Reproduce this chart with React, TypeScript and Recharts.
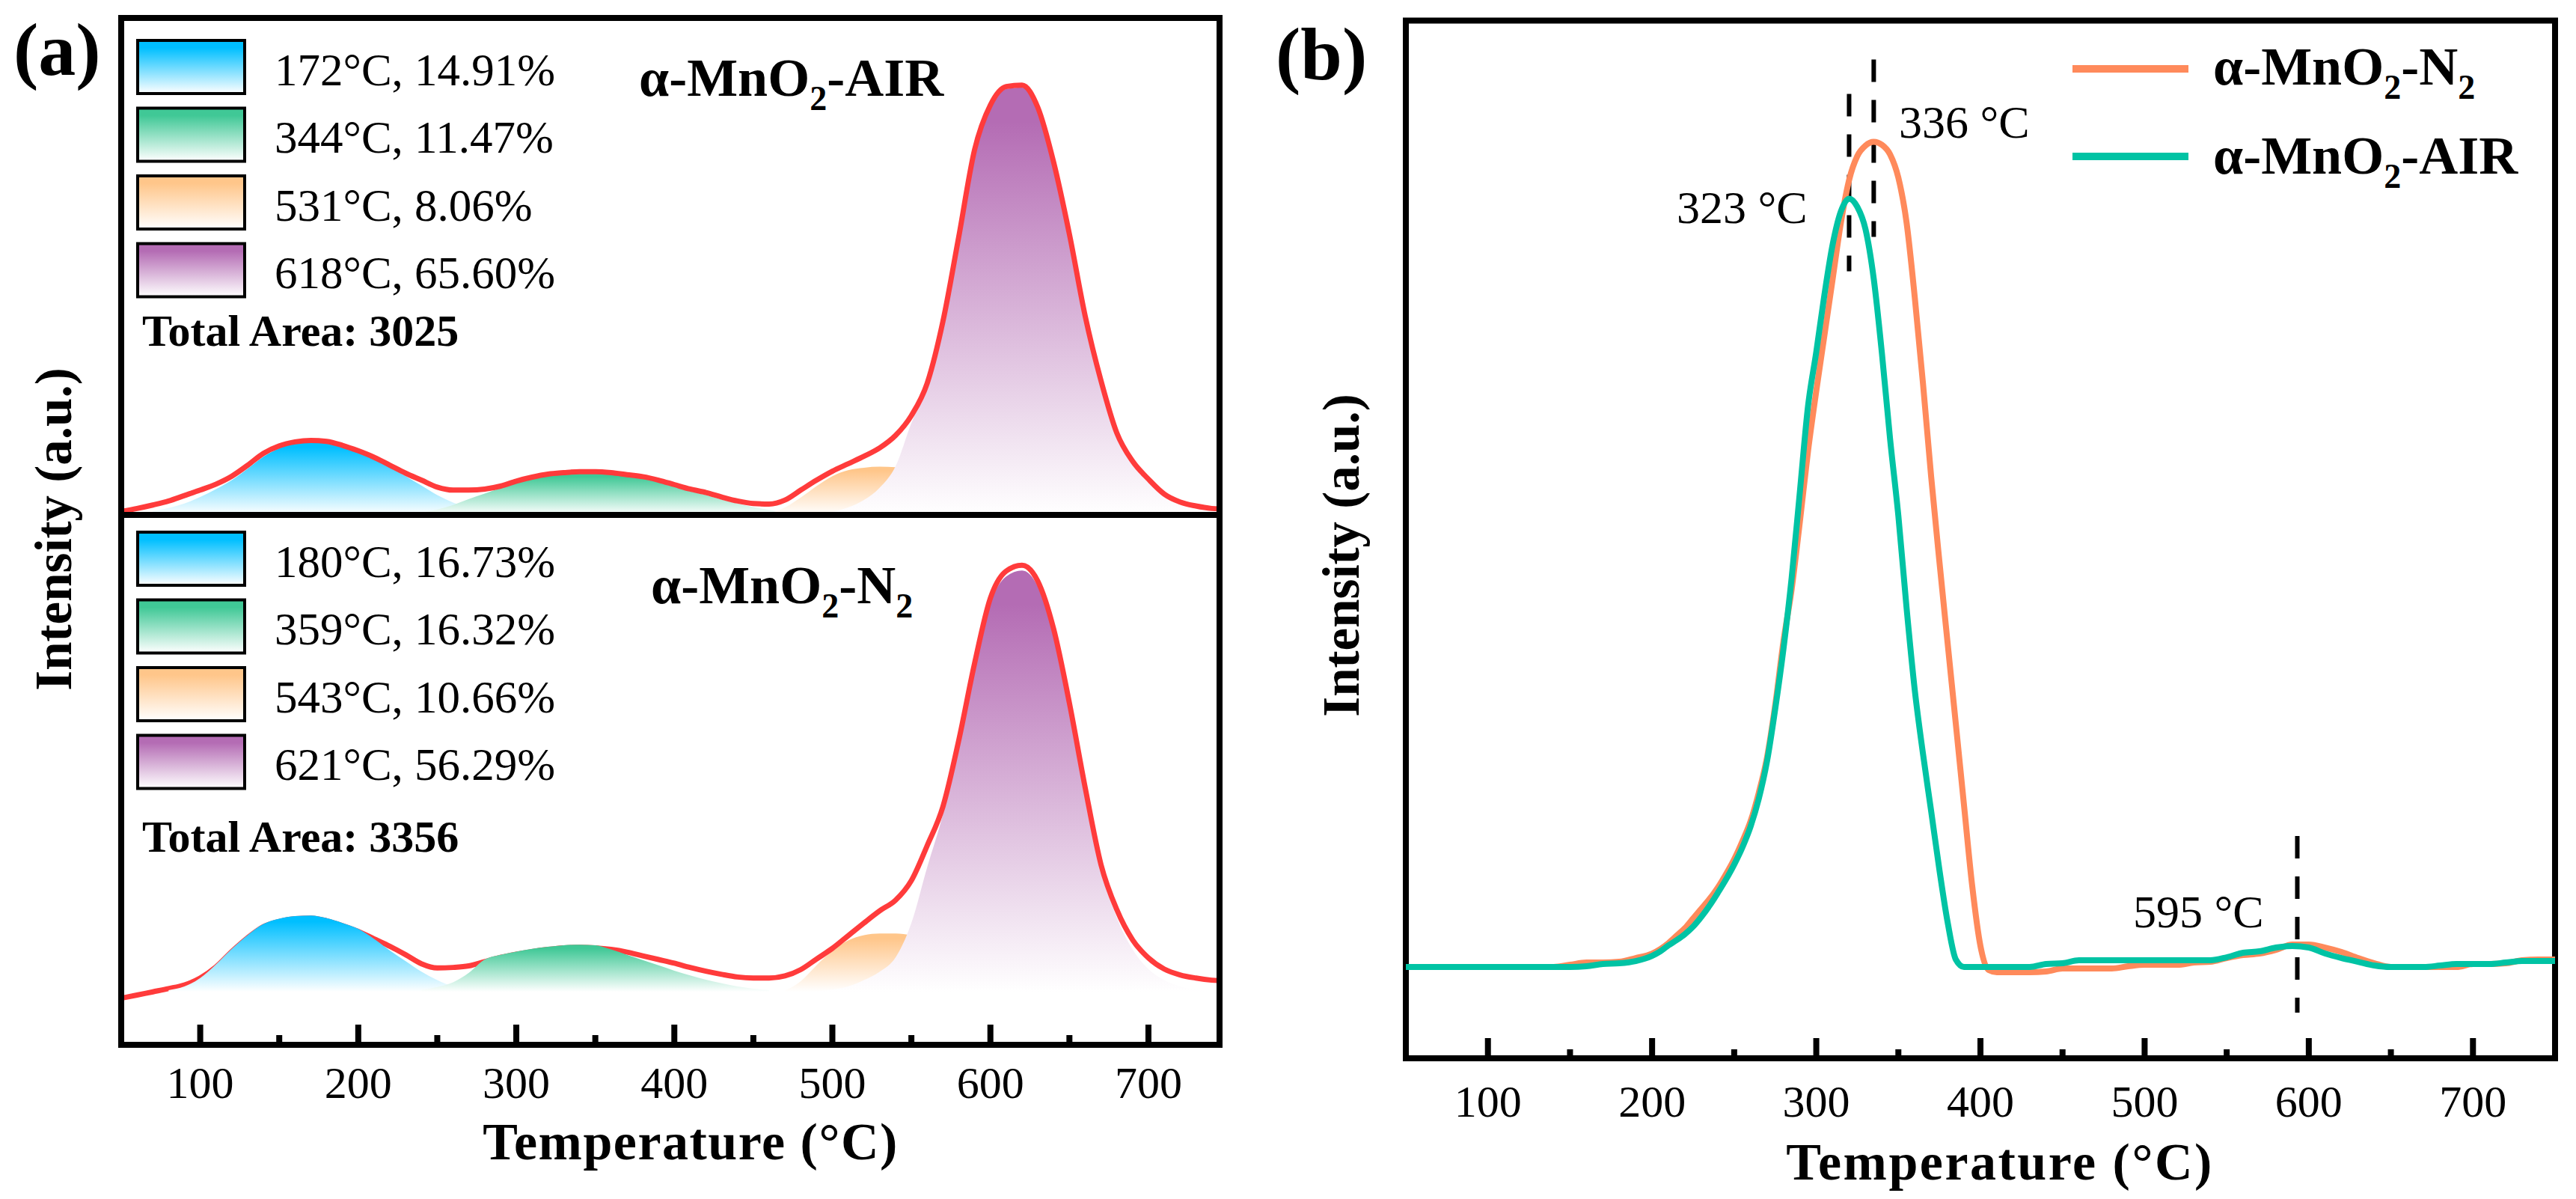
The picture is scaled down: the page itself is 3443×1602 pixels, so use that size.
import { ComposedChart, Area, Line, XAxis, YAxis, ReferenceArea, ReferenceLine } from 'recharts'

const SERIF = '"Liberation Serif", "Times New Roman", Times, serif'

// ---------- panel (a): peak-fitted profiles ----------
const tempA = [
  50, 60, 70, 80, 90, 100, 110, 120, 130, 140, 150, 160, 170, 180, 190, 200, 210, 220, 230, 240,
  250, 260, 270, 280, 290, 300, 310, 320, 330, 340, 350, 360, 370, 380, 390, 400, 410, 420, 430, 440,
  450, 460, 470, 480, 490, 500, 510, 520, 530, 540, 550, 560, 570, 580, 590, 600, 610, 620, 630, 640,
  650, 660, 670, 680, 690, 700, 710, 720, 730, 740, 745,
]

// α-MnO2-AIR (top half), starts at 50
const airEnvelope = [
  0.7, 1.3, 2.0, 2.8, 3.9, 5.0, 6.2, 7.8, 10.0, 12.4,
  13.9, 14.7, 15.0, 14.8, 14.0, 12.9, 11.6, 10.0, 8.4, 7.0,
  5.6, 5.0, 5.0, 5.2, 5.8, 6.8, 7.6, 8.2, 8.5, 8.7,
  8.7, 8.5, 8.1, 7.7, 7.0, 6.1, 5.2, 4.5, 3.6, 2.8,
  2.3, 2.2, 3.0, 5.0, 7.0, 8.8, 10.3, 11.8, 13.5, 16.0,
  20.0, 26.5, 39.0, 56.0, 73.5, 82.5, 86.2, 86.5, 82.0, 71.0,
  56.5, 40.0, 27.0, 16.5, 10.8, 7.2, 4.2, 2.6, 1.8, 1.3,
  1.2,
]
const airBlue = [0.8, 1.4, 2.3, 3.6, 5.2, 7.0, 9.3, 11.7, 13.4, 14.4, 14.8, 14.6, 13.8, 12.7, 11.3, 9.6, 7.8, 5.9, 4.0, 2.5, 1.4, 0.7, 0.3] // from 70
const airGreen = [0.5, 1.1, 2.0, 3.2, 4.3, 5.4, 6.4, 7.2, 7.9, 8.2, 8.4, 8.4, 8.2, 7.8, 7.3, 6.6, 5.7, 4.8, 4.0, 3.1, 2.3, 1.6, 1.0, 0.5] // from 240
const airOrange = [0.3, 1.5, 3.5, 5.8, 7.8, 9.0, 9.5, 9.7, 9.6, 9.0, 7.8, 6.0, 4.0, 2.3, 1.0] // from 460
const airPurple = [
  0.2, 0.6, 1.5, 3.0, 5.5, 9.8, 18.5, 25.8, 38.5, 55.5, 73.0, 82.0, 85.7, 86.0, 81.5,
  70.5, 56.0, 39.5, 26.5, 16.0, 10.3, 6.6, 3.7, 2.0, 1.1, 0.6, 0.4,
] // from 490

// α-MnO2-N2 (bottom half), starts at 50
const n2Envelope = [
  8.8, 9.4, 10.0, 10.6, 11.3, 12.6, 14.7, 17.6, 20.2, 22.3,
  23.3, 23.8, 23.9, 23.4, 22.5, 21.4, 20.0, 18.6, 17.0, 15.3,
  14.5, 14.6, 14.9, 15.7, 16.5, 17.1, 17.6, 18.0, 18.3, 18.4,
  18.3, 18.0, 17.5, 16.8, 16.1, 15.4, 14.6, 13.9, 13.3, 12.8,
  12.6, 12.6, 13.0, 14.2, 16.2, 18.2, 20.6, 23.0, 25.3, 27.3,
  31.0, 37.6, 45.0, 57.5, 72.0, 84.3, 89.4, 90.5, 87.5, 78.5,
  64.5, 48.5, 34.0, 25.5, 19.8, 16.4, 14.3, 13.2, 12.6, 12.2,
  12.1,
]
const n2Blue = [10.3, 11.0, 12.6, 15.2, 18.1, 20.7, 22.8, 23.8, 24.3, 24.4, 23.9, 23.0, 21.9, 20.0, 17.8, 15.8, 13.8, 12.2, 11.0, 10.3] // from 80
const n2Green = [10.3, 10.9, 11.8, 13.6, 16.1, 17.0, 17.6, 18.1, 18.5, 18.8, 18.9, 18.8, 18.0, 17.0, 16.0, 15.0, 14.0, 13.1, 12.3, 11.6, 11.0, 10.6, 10.3] // from 240
const n2Orange = [10.2, 12.0, 15.0, 17.8, 19.7, 20.7, 21.0, 21.0, 20.6, 19.3, 17.0, 14.5, 12.3, 10.9, 10.2] // from 470
const n2Purple = [
  10.0, 10.1, 10.4, 11.0, 12.2, 13.8, 16.5, 23.0, 33.5, 43.5, 56.5, 71.0, 83.3, 88.4,
  89.5, 86.5, 77.5, 63.5, 47.5, 33.0, 24.0, 18.0, 14.3, 12.2, 11.0, 10.4, 10.1, 10.0,
] // from 480

const airPeakLabels = ['172°C, 14.91%', '344°C, 11.47%', '531°C, 8.06%', '618°C, 65.60%']
const n2PeakLabels = ['180°C, 16.73%', '359°C, 16.32%', '543°C, 10.66%', '621°C, 56.29%']
const airTotal = 'Total Area: 3025'
const n2Total = 'Total Area: 3356'

// ---------- panel (b): raw profiles ----------
const tempB = [
  50, 60, 70, 80, 90, 100, 110, 120, 130, 140, 150, 160, 170, 180, 190,
  200, 205, 210, 215, 220, 225, 230, 235, 240, 245, 250, 255, 260, 265, 270, 275, 280, 285, 290, 295,
  300, 305, 310, 315, 320, 325, 330, 335, 340, 345, 350, 355, 360, 365, 370, 375, 380, 385, 390, 395,
  400, 405, 410,
  420, 430, 440, 450, 460, 470, 480, 490, 500, 510, 520, 530, 540, 550, 560, 570, 580, 590, 600, 610,
  620, 630, 640, 650, 660, 670, 680, 690, 700, 710, 720, 730, 740, 750,
]
const n2Curve = [
  0, 0, 0, 0, 0, 0, 0, 0, 0, 0, 0.3, 0.6, 0.6, 0.7, 1.2,
  1.8, 2.4, 3.2, 4.2, 5.2, 6.5, 7.8, 9.1, 10.6, 12.4, 14.4, 16.8, 19.5, 23.3, 28.0, 35.0, 43.5, 50.5, 59.5, 69.0,
  77.0, 84.5, 92.0, 99.5, 105.2, 108.4, 109.8, 110.3, 109.9, 108.6, 105.5, 99.5, 89.5, 78.0, 65.5, 54.2, 43.3, 32.5, 21.6, 10.8,
  2.8, -0.4, -0.7,
  -0.7, -0.7, -0.6, -0.2, -0.2, -0.2, -0.2, 0.1, 0.3, 0.3, 0.3, 0.6, 0.7, 1.2, 1.6, 1.8, 2.3, 3.0, 3.0, 2.6,
  2.0, 1.2, 0.5, 0, 0, 0, 0, 0, 0.4, 0.4, 0.5, 0.9, 1.0, 1.0,
]
const airCurve = [
  0, 0, 0, 0, 0, 0, 0, 0, 0, 0, 0, 0.1, 0.4, 0.5, 0.8,
  1.5, 2.1, 2.9, 3.6, 4.4, 5.4, 6.7, 8.2, 9.9, 11.7, 13.7, 16.0, 18.8, 22.5, 27.5, 34.5, 42.5, 52.0, 63.5, 75.0,
  82.2, 89.9, 96.6, 101.0, 102.7, 101.6, 98.6, 92.0, 82.0, 70.5, 60.3, 48.0, 37.0, 28.5, 20.8, 13.0, 6.0, 1.0, 0, 0,
  0, 0, 0,
  0, 0, 0.4, 0.5, 0.9, 0.9, 0.9, 0.9, 0.9, 0.9, 0.9, 0.9, 0.9, 1.3, 1.9, 2.1, 2.6, 2.8, 2.6, 1.8,
  1.2, 0.7, 0.2, 0, 0, 0, 0.2, 0.4, 0.4, 0.4, 0.6, 0.8, 0.8, 0.8,
]
// dashed peak markers: temperature, top and bottom of the dash
const markT = [335, 320, 593]
const markTop = [121.3, 116.7, 17.5]
const markBottom = [97.6, 93.0, -6.1]
const markLabels = ['336 °C', '323 °C', '595 °C']

const ticksX = [100, 150, 200, 250, 300, 350, 400, 450, 500, 550, 600, 650, 700]

const RED = '#FF3B3B'
const ORANGE_LINE = '#FF8A5B'
const TEAL_LINE = '#00C3A4'
const FILLS = [
  { key: 'blue', color: '#00BFFF' },
  { key: 'green', color: '#40C896' },
  { key: 'orange', color: '#FFC68A' },
  { key: 'purple', color: '#B46CB4' },
]

type Row = Record<string, number | null>

function buildRows(temps: number[], series: Record<string, [number, number[]]>): Row[] {
  return temps.map((t, i) => {
    const row: Row = { t }
    for (const key of Object.keys(series)) {
      const [from, vals] = series[key]
      const j = i - temps.indexOf(from)
      row[key] = j >= 0 && j < vals.length ? vals[j] : null
    }
    return row
  })
}

const airRows = buildRows(tempA, {
  env: [50, airEnvelope],
  blue: [70, airBlue],
  green: [240, airGreen],
  orange: [460, airOrange],
  purple: [490, airPurple],
})
const n2Rows = buildRows(tempA, {
  env: [50, n2Envelope],
  blue: [80, n2Blue],
  green: [240, n2Green],
  orange: [470, n2Orange],
  purple: [480, n2Purple],
})
const bRows = tempB.map((t, i) => ({ t, n2: n2Curve[i], air: airCurve[i] }))

function gradients(prefix: string) {
  return (
    <defs>
      {FILLS.map((f) => (
        <linearGradient key={f.key} id={`${prefix}-${f.key}`} x1="0" y1="0" x2="0" y2="1">
          <stop offset="0%" stopColor={f.color} />
          <stop offset="8%" stopColor={f.color} />
          <stop offset="100%" stopColor="#ffffff" />
        </linearGradient>
      ))}
    </defs>
  )
}

function fillArea(prefix: string, key: string, base: number) {
  return (
    <Area
      key={key}
      type="monotone"
      dataKey={key}
      baseValue={base}
      stroke="none"
      fill={`url(#${prefix}-${key})`}
      fillOpacity={1}
      dot={false}
      activeDot={false}
      isAnimationActive={false}
    />
  )
}

function envelopeArea() {
  return (
    <Area
      key="env"
      type="monotone"
      dataKey="env"
      stroke={RED}
      strokeWidth={7}
      fill="none"
      fillOpacity={0}
      dot={false}
      activeDot={false}
      isAnimationActive={false}
    />
  )
}

// inward ticks, label only on the hundreds
function makeTick(labelDy: number, majorLen: number, minorLen: number) {
  return (props: any) => {
    const { x, y, payload } = props
    const major = payload.value % 100 === 0
    return (
      <g>
        <line x1={x} x2={x} y1={y} y2={y - (major ? majorLen : minorLen)} stroke="#000" strokeWidth={8} />
        {major && (
          <text x={x} y={y + labelDy} textAnchor="middle" fontFamily={SERIF} fontSize={60} fill="#000">
            {payload.value}
          </text>
        )}
      </g>
    )
  }
}

function Formula({ x, y, size, tail, tailSub }: { x: number; y: number; size: number; tail: string; tailSub?: string }) {
  const sub = Math.round(size * 0.64)
  const dy = Math.round(size * 0.26)
  return (
    <text x={x} y={y} fontSize={size} fontWeight="bold" fill="#000">
      α-MnO<tspan fontSize={sub} dy={dy}>2</tspan>
      <tspan dy={-dy}>-{tail}</tspan>
      {tailSub && <tspan fontSize={sub} dy={dy}>{tailSub}</tspan>}
    </text>
  )
}

function Swatches({ top, labels, total, totalY }: { top: number; labels: string[]; total: string; totalY: number }) {
  return (
    <g>
      {FILLS.map((f, i) => {
        const y = top + i * 90.5
        return (
          <g key={f.key}>
            <rect x={184} y={y + 2} width={143} height={71} fill={`url(#sw-${f.key})`} stroke="#000" strokeWidth={4} />
            <text x={367} y={y + 61.5} fontSize={61} fill="#000">{labels[i]}</text>
          </g>
        )
      })}
      <text x={190} y={totalY} fontSize={60} fontWeight="bold" fill="#000">{total}</text>
    </g>
  )
}

export default function App() {
  return (
    <div style={{ position: 'absolute', left: 0, top: 0, width: 3443, height: 1602, background: '#fff', overflow: 'hidden' }}>
      {/* (a) top: AIR */}
      <div style={{ position: 'absolute', left: 0, top: 0 }}>
        <ComposedChart width={1700} height={700} data={airRows} margin={{ top: 24, right: 70, bottom: 12, left: 162 }}>
          {gradients('air')}
          <XAxis dataKey="t" type="number" domain={[50, 745]} allowDataOverflow hide />
          <YAxis type="number" domain={[0, 100]} allowDataOverflow hide />
          {fillArea('air', 'blue', 0)}
          {fillArea('air', 'green', 0)}
          {fillArea('air', 'orange', 0)}
          {fillArea('air', 'purple', 0)}
          {envelopeArea()}
          <ReferenceArea x1={50} x2={745} y1={0} y2={100} fill="none" stroke="#000" strokeWidth={8} ifOverflow="visible" />
        </ComposedChart>
      </div>

      {/* (a) bottom: N2 */}
      <div style={{ position: 'absolute', left: 0, top: 640 }}>
        <ComposedChart width={1700} height={962} data={n2Rows} margin={{ top: 48, right: 70, bottom: 205, left: 162 }}>
          {gradients('n2')}
          <XAxis
            dataKey="t"
            type="number"
            domain={[50, 745]}
            allowDataOverflow
            ticks={ticksX}
            interval={0}
            height={1}
            tickSize={0}
            tickMargin={0}
            axisLine={false}
            tickLine={false}
            tick={makeTick(71, 27, 13)}
          />
          <YAxis type="number" domain={[0, 100]} allowDataOverflow hide />
          {fillArea('n2', 'orange', 10)}
          {fillArea('n2', 'purple', 10)}
          {envelopeArea()}
          {fillArea('n2', 'blue', 10)}
          {fillArea('n2', 'green', 10)}
          <ReferenceArea x1={50} x2={745} y1={0} y2={100} fill="none" stroke="#000" strokeWidth={8} ifOverflow="visible" />
        </ComposedChart>
      </div>

      {/* (b) */}
      <div style={{ position: 'absolute', left: 1700, top: 0 }}>
        <ComposedChart width={1743} height={1602} data={bRows} margin={{ top: 27.5, right: 28, bottom: 187, left: 179 }}>
          <XAxis
            dataKey="t"
            type="number"
            domain={[50, 750]}
            allowDataOverflow
            ticks={ticksX}
            interval={0}
            height={1}
            tickSize={0}
            tickMargin={0}
            axisLine={false}
            tickLine={false}
            tick={makeTick(78, 27, 12)}
          />
          <YAxis type="number" domain={[-12.2, 126.5]} allowDataOverflow hide />
          {markT.map((t, i) => (
            <ReferenceLine
              key={t}
              segment={[{ x: t, y: markTop[i] }, { x: t, y: markBottom[i] }]}
              stroke="#000"
              strokeWidth={6}
              strokeDasharray="30 24"
              ifOverflow="visible"
            />
          ))}
          <Line type="monotone" dataKey="n2" stroke={ORANGE_LINE} strokeWidth={8} dot={false} activeDot={false} isAnimationActive={false} />
          <Line type="monotone" dataKey="air" stroke={TEAL_LINE} strokeWidth={8} dot={false} activeDot={false} isAnimationActive={false} />
          <ReferenceArea x1={50} x2={750} y1={-12.2} y2={126.5} fill="none" stroke="#000" strokeWidth={8} ifOverflow="visible" />
        </ComposedChart>
      </div>

      {/* text layer */}
      <svg
        width={3443}
        height={1602}
        style={{ position: 'absolute', left: 0, top: 0, pointerEvents: 'none' }}
        fontFamily={SERIF}
      >
        <defs>
          {FILLS.map((f) => (
            <linearGradient key={f.key} id={`sw-${f.key}`} x1="0" y1="0" x2="0" y2="1">
              <stop offset="0%" stopColor={f.color} />
              <stop offset="14%" stopColor={f.color} />
              <stop offset="100%" stopColor="#ffffff" />
            </linearGradient>
          ))}
        </defs>

        <text x={18} y={100} fontSize={100} fontWeight="bold" fill="#000">(a)</text>
        <text x={1705} y={106} fontSize={100} fontWeight="bold" fill="#000">(b)</text>

        <Swatches top={52} labels={airPeakLabels} total={airTotal} totalY={462} />
        <Swatches top={709} labels={n2PeakLabels} total={n2Total} totalY={1138} />

        <Formula x={854} y={128} size={72} tail="AIR" />
        <Formula x={870} y={806} size={72} tail="N" tailSub="2" />

        <text transform="translate(95,707) rotate(-90)" textAnchor="middle" fontSize={69} fontWeight="bold" fill="#000">
          Intensity (a.u.)
        </text>
        <text transform="translate(1816,742) rotate(-90)" textAnchor="middle" fontSize={69} fontWeight="bold" fill="#000">
          Intensity (a.u.)
        </text>
        <text x={923} y={1549} textAnchor="middle" fontSize={70} fontWeight="bold" letterSpacing={1.5} fill="#000">
          Temperature (°C)
        </text>
        <text x={2673} y={1576} textAnchor="middle" fontSize={70} fontWeight="bold" letterSpacing={2.5} fill="#000">
          Temperature (°C)
        </text>

        {/* legend of (b) */}
        <line x1={2770} x2={2925} y1={92} y2={92} stroke={ORANGE_LINE} strokeWidth={10} />
        <Formula x={2958} y={113} size={72} tail="N" tailSub="2" />
        <line x1={2770} x2={2925} y1={209} y2={209} stroke={TEAL_LINE} strokeWidth={10} />
        <Formula x={2958} y={232} size={72} tail="AIR" />

        <text x={2538} y={184} fontSize={62} fill="#000">{markLabels[0]}</text>
        <text x={2241} y={298} fontSize={62} fill="#000">{markLabels[1]}</text>
        <text x={2851} y={1239} fontSize={62} fill="#000">{markLabels[2]}</text>
      </svg>
    </div>
  )
}
